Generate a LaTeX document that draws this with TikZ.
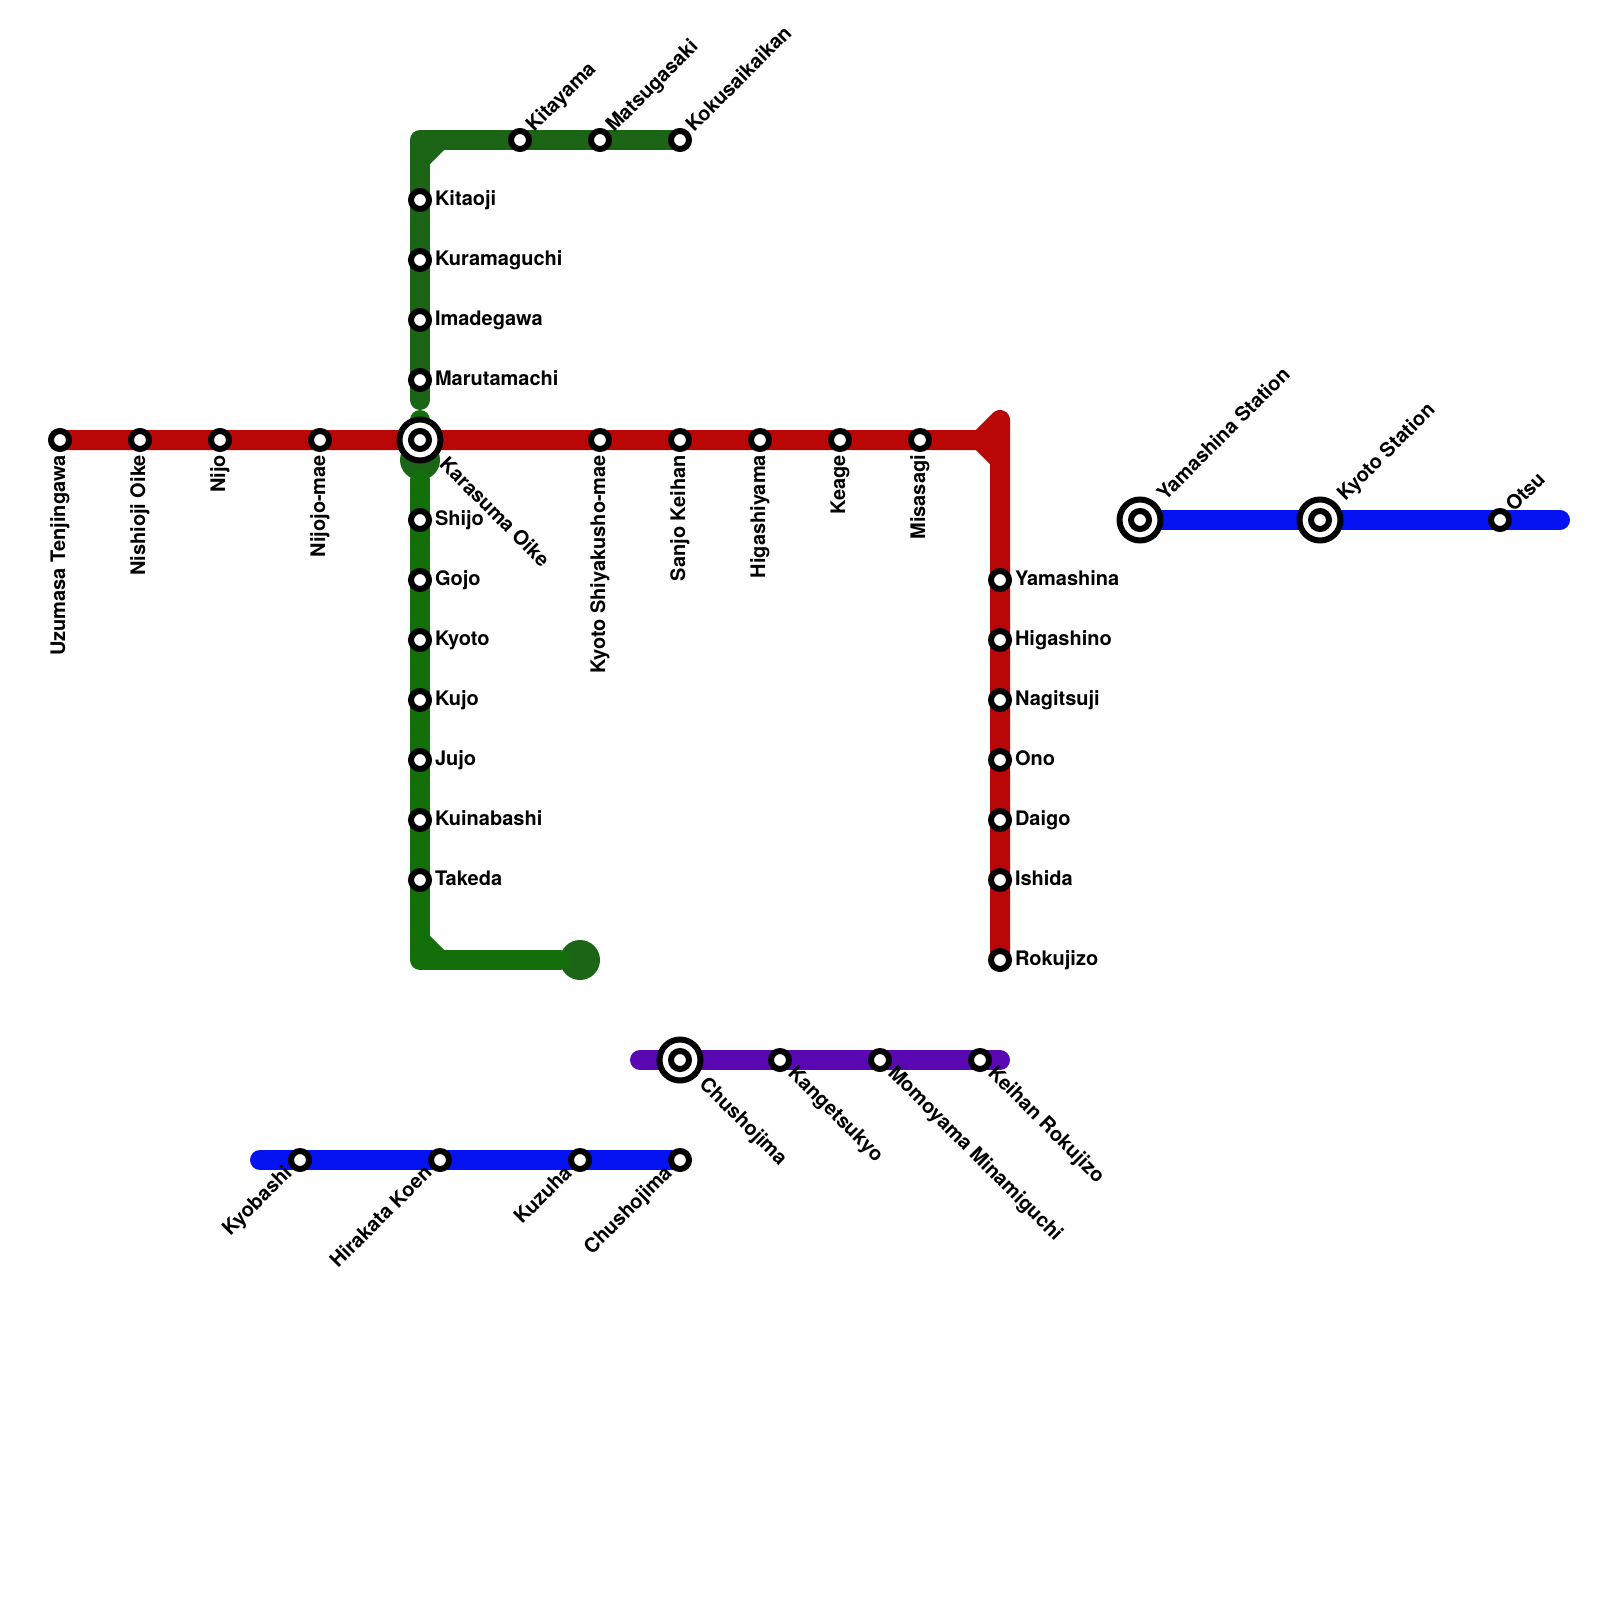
\documentclass[tikz,border=0pt]{standalone}
\usepackage{fontspec}
\setmainfont{TeX Gyre Heros}
\usetikzlibrary{backgrounds}

\tikzset{
    stn/.style={circle, draw=black, fill=white, line width=6pt, minimum size=18pt, inner sep=0pt, outer sep=0pt},
    hub/.style={circle, draw=black, fill=white, line width=6pt, minimum size=41pt, inner sep=0pt, outer sep=0pt},
    blob/.style={circle, fill=darkGreen, minimum size=40pt, inner sep=0pt, outer sep=0pt},
    track/.style={line width=20pt, line cap=round, line join=round},
    txt/.style={font=\fontsize{20}{24}\selectfont\bfseries, inner sep=0pt, outer sep=0pt},
    lblRight/.style={txt, anchor=base west, xshift=15pt, yshift=-5pt},
    lblUp/.style={txt, rotate=45, anchor=base west, xshift=15pt, yshift=-5pt},
    lblDown/.style={txt, rotate=90, anchor=base east, xshift=-15pt, yshift=-5pt},
    lblLow/.style={txt, rotate=-45, anchor=base west, xshift=15pt, yshift=-5pt},
    lblBack/.style={txt, rotate=45, anchor=base east, xshift=-15pt, yshift=-5pt},
}

\begin{document}
\begin{tikzpicture}[x=1pt, y=-1pt]
    \definecolor{redLine}{HTML}{B80706}
    \definecolor{darkGreen}{HTML}{1D6516}
    \definecolor{brightGreen}{HTML}{126F0A}
    \definecolor{blueLine}{HTML}{0512F2}
    \definecolor{purpleLine}{HTML}{5908B3}

    \useasboundingbox (0,0) rectangle (1600,1600);

    % Stations along the top of the north line
    \foreach \x/\nm/\txt in {520/kitayama/Kitayama, 600/matsugasaki/Matsugasaki, 680/kokusai/Kokusaikaikan}{
        \node[stn] (\nm) at (\x,140) {};
        \node[lblUp] (\nm-t) at (\nm) {\txt};
    }

    % Stations down both green lines
    \foreach \y/\nm/\txt in {200/kitaoji/Kitaoji, 260/kuramaguchi/Kuramaguchi, 320/imadegawa/Imadegawa, 380/marutamachi/Marutamachi,
        520/shijo/Shijo, 580/gojo/Gojo, 640/kyotoSt/Kyoto, 700/kujo/Kujo, 760/jujo/Jujo, 820/kuinabashi/Kuinabashi, 880/takeda/Takeda}{
        \node[stn] (\nm) at (420,\y) {};
        \node[lblRight] (\nm-t) at (\nm) {\txt};
    }

    % Stations along the red line
    \foreach \x/\nm/\txt in {60/uzumasa/Uzumasa Tenjingawa, 140/nishioji/Nishioji Oike, 220/nijo/Nijo, 320/nijomae/Nijojo-mae,
        600/shiyakusho/Kyoto Shiyakusho-mae, 680/sanjo/Sanjo Keihan, 760/higashiyama/Higashiyama, 840/keage/Keage, 920/misasagi/Misasagi}{
        \node[stn] (\nm) at (\x,440) {};
        \node[lblDown] (\nm-t) at (\nm) {\txt};
    }
    \foreach \y/\nm/\txt in {580/yamashina/Yamashina, 640/higashino/Higashino, 700/nagitsuji/Nagitsuji, 760/ono/Ono,
        820/daigo/Daigo, 880/ishida/Ishida, 960/rokujizo/Rokujizo}{
        \node[stn] (\nm) at (1000,\y) {};
        \node[lblRight] (\nm-t) at (\nm) {\txt};
    }

    % Stations on the purple line
    \foreach \x/\nm/\txt in {780/kangetsukyo/Kangetsukyo, 880/momoyama/Momoyama Minamiguchi, 980/keihanRoku/Keihan Rokujizo}{
        \node[stn] (\nm) at (\x,1060) {};
        \node[lblLow] (\nm-t) at (\nm) {\txt};
    }

    % Stations on the lower blue line
    \foreach \x/\nm/\txt in {300/kyobashi/Kyobashi, 440/hirakata/Hirakata Koen, 580/kuzuha/Kuzuha, 680/chushoB/Chushojima}{
        \node[stn] (\nm) at (\x,1160) {};
        \node[lblBack] (\nm-t) at (\nm) {\txt};
    }

    % Interchanges
    \node[hub] (karasuma) at (420,440) {};
    \node[stn] (karasuma-in) at (karasuma) {};
    \node[lblLow, xshift=16pt] (karasuma-t) at (karasuma) {Karasuma Oike};
    \node[hub] (chushoA) at (680,1060) {};
    \node[stn] (chushoA-in) at (chushoA) {};
    \node[lblLow, xshift=16pt] (chushoA-t) at (chushoA) {Chushojima};
    \node[hub] (yamashinaSt) at (1140,520) {};
    \node[stn] (yamashinaSt-in) at (yamashinaSt) {};
    \node[lblUp, xshift=16pt] (yamashinaSt-t) at (yamashinaSt) {Yamashina Station};
    \node[hub] (kyotoStn) at (1320,520) {};
    \node[stn] (kyotoStn-in) at (kyotoStn) {};
    \node[lblUp, xshift=16pt] (kyotoStn-t) at (kyotoStn) {Kyoto Station};
    \node[stn] (otsu) at (1500,520) {};
    \node[lblUp] (otsu-t) at (otsu) {Otsu};

    % Bends and line ends
    \coordinate (northCorner) at (420,140);
    \coordinate (northBevelA) at (420,160);
    \coordinate (northBevelB) at (440,140);
    \coordinate (northEnd) at (420,400);
    \coordinate (stubTop) at (420,420);
    \coordinate (southStart) at (420,480);
    \coordinate (southCorner) at (420,960);
    \coordinate (southBevelA) at (420,940);
    \coordinate (southBevelB) at (440,960);
    \coordinate (southEnd) at (560,960);
    \coordinate (redFork) at (980,440);
    \coordinate (redTop) at (1000,420);
    \coordinate (redLow) at (1000,460);
    \coordinate (blueEast) at (1560,520);
    \coordinate (blueWest) at (260,1160);
    \coordinate (purpleWest) at (640,1060);
    \coordinate (purpleEast) at (1000,1060);

    % Draw the lines behind the stations
    \begin{scope}[on background layer]
        \draw[track, darkGreen] (kokusai.center) -- (northCorner) -- (northEnd);
        \draw[track, darkGreen] (northBevelA) -- (northBevelB);
        \draw[track, brightGreen] (stubTop) -- (karasuma.center);
        \node[blob] (karasumaBlob) at (420,460) {};
        \node[blob] (southBlob) at (580,960) {};
        \draw[track, brightGreen] (southStart) -- (southCorner) -- (southEnd);
        \draw[track, brightGreen] (southBevelA) -- (southBevelB);
        \draw[track, redLine] (uzumasa.center) -- (redFork) -- (redTop) -- (rokujizo.center);
        \draw[track, redLine] (redFork) -- (redLow);
        \draw[track, blueLine] (yamashinaSt.center) -- (blueEast);
        \draw[track, blueLine] (blueWest) -- (chushoB.center);
        \draw[track, purpleLine] (purpleWest) -- (purpleEast);
    \end{scope}
\end{tikzpicture}
\end{document}
